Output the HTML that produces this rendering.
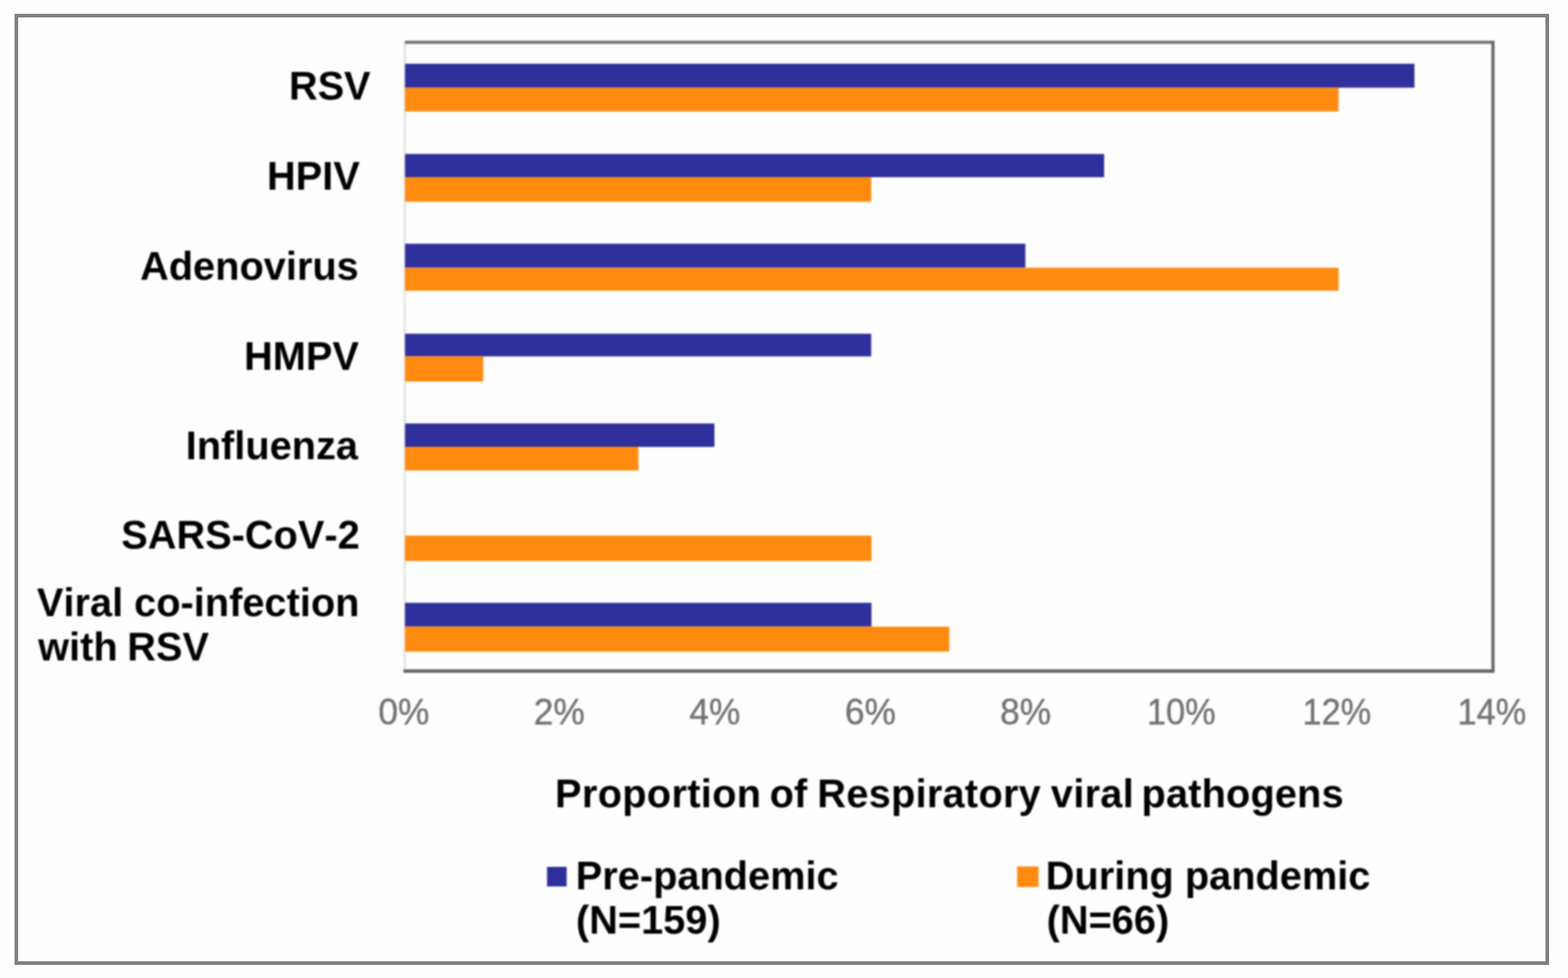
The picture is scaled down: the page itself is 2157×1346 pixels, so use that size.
<!DOCTYPE html>
<html lang="en">
<head>
<meta charset="utf-8">
<title>Proportion of Respiratory viral pathogens</title>
<style>
html,body{margin:0;padding:0;background:#fefefe;}
body{width:2157px;height:1346px;overflow:hidden;position:relative;}
#frame{position:absolute;left:20px;top:19px;width:2101px;height:1299px;border:5px solid #808080;background:#fefefe;}
svg{position:absolute;left:0;top:0;}
text{font-family:"Liberation Sans",Arial,Helvetica,sans-serif;font-kerning:none;font-variant-ligatures:none;}
.b{font-weight:bold;font-size:54.7px;fill:#000;}
.t{font-size:49.0px;fill:#727272;stroke:#727272;stroke-width:0.5px;}
#chart{filter:blur(1.0px);}
</style>
</head>
<body>
<div id="frame"></div>
<svg width="2157" height="1346" viewBox="0 0 2157 1346">
<g id="chart">
<rect x="555" y="58" width="3.5" height="866" fill="#e6e6e6"/>
<rect x="557" y="56" width="1499" height="4.4" fill="#747474"/>
<rect x="2051.6" y="56" width="4.4" height="870" fill="#686868"/>
<rect x="555" y="921.2" width="1501" height="4.8" fill="#686868"/>
<rect x="557.2" y="87.7" width="1388.6" height="33.0" fill="#30309c"/>
<rect x="557.2" y="120.7" width="1284.2" height="32.7" fill="#ff8a10"/>
<rect x="557.2" y="211.9" width="961.7" height="32.0" fill="#30309c"/>
<rect x="557.2" y="243.9" width="641.3" height="33.8" fill="#ff8a10"/>
<rect x="557.2" y="335.4" width="853.3" height="33.1" fill="#30309c"/>
<rect x="557.2" y="368.5" width="1284.2" height="31.6" fill="#ff8a10"/>
<rect x="557.2" y="459.3" width="641.3" height="31.2" fill="#30309c"/>
<rect x="557.2" y="490.5" width="107.6" height="34.6" fill="#ff8a10"/>
<rect x="557.2" y="582.8" width="425.6" height="32.3" fill="#30309c"/>
<rect x="557.2" y="615.1" width="321.0" height="32.4" fill="#ff8a10"/>
<rect x="557.2" y="737.1" width="641.6" height="35.0" fill="#ff8a10"/>
<rect x="557.2" y="829.6" width="641.6" height="32.8" fill="#30309c"/>
<rect x="557.2" y="862.4" width="748.7" height="34.4" fill="#ff8a10"/>
<text class="b" x="397.4" y="137.1">RSV</text>
<text class="b" x="367.3" y="260.6">HPIV</text>
<text class="b" x="192.7" y="384.8">Adenovirus</text>
<text class="b" x="335.8" y="508.9">HMPV</text>
<text class="b" x="255.5" y="631.7">Influenza</text>
<text class="b" x="166.7" y="755.4">SARS-CoV-2</text>
<text class="b" x="50.8" y="848.3">Viral co-infection</text>
<text class="b" y="909.4"><tspan x="52.5">with</tspan> <tspan x="175.0">RSV</tspan></text>
<text class="t" text-anchor="end" transform="translate(590.8 996.8) scale(0.992 1.012)">0%</text>
<text class="t" text-anchor="end" transform="translate(804.4 996.8) scale(0.992 1.012)">2%</text>
<text class="t" text-anchor="end" transform="translate(1018.4 996.8) scale(0.992 1.012)">4%</text>
<text class="t" text-anchor="end" transform="translate(1232.5 996.8) scale(0.992 1.012)">6%</text>
<text class="t" text-anchor="end" transform="translate(1446.0 996.8) scale(0.992 1.012)">8%</text>
<text class="t" text-anchor="end" transform="translate(1672.4 996.8) scale(0.965 1.012)">10%</text>
<text class="t" text-anchor="end" transform="translate(1886.3 996.8) scale(0.965 1.012)">12%</text>
<text class="t" text-anchor="end" transform="translate(2099.5 996.8) scale(0.965 1.012)">14%</text>
<text class="b" y="1110.6"><tspan x="763.5" letter-spacing="0.45">Proportion</tspan> <tspan x="1058.8" letter-spacing="0">of</tspan> <tspan x="1124.3" letter-spacing="0.35">Respiratory</tspan> <tspan x="1445.6" letter-spacing="0.37">viral</tspan> <tspan x="1570.3" letter-spacing="0.2">pathogens</tspan></text>
<rect x="752.5" y="1193" width="27" height="27" fill="#30309c"/>
<text class="b" x="792" y="1223.6">Pre-pandemic</text>
<text class="b" x="792.3" y="1285.4">(N=159)</text>
<rect x="1399.3" y="1192.4" width="29.3" height="28.3" fill="#ff8a10"/>
<text class="b" x="1438.5" y="1223.6">During pandemic</text>
<text class="b" x="1439.7" y="1285.4">(N=66)</text>
</g>
</svg>
</body>
</html>
